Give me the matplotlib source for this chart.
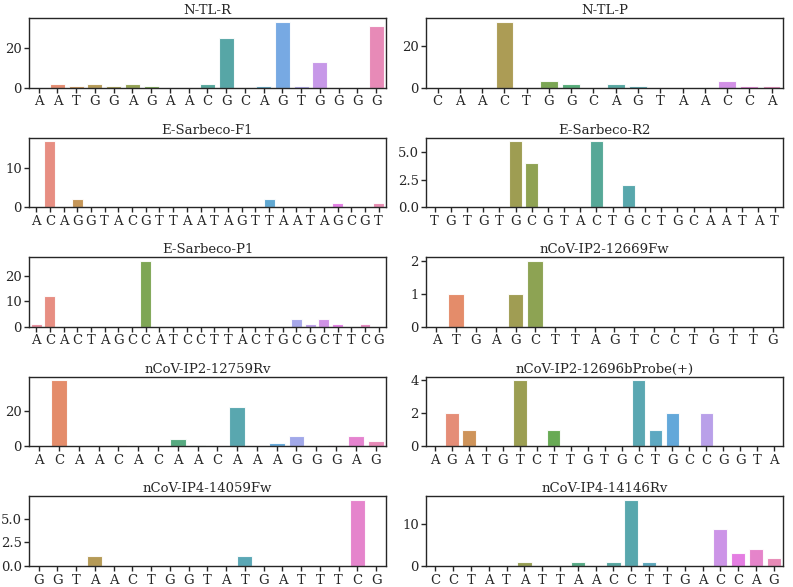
import matplotlib
matplotlib.use("Agg")
import matplotlib.pyplot as plt
from matplotlib.ticker import MaxNLocator
import seaborn as sns

# primer names, sequences and mismatch counts per position
titles = [
    "N-TL-R", "N-TL-P",
    "E-Sarbeco-F1", "E-Sarbeco-R2",
    "E-Sarbeco-P1", "nCoV-IP2-12669Fw",
    "nCoV-IP2-12759Rv", "nCoV-IP2-12696bProbe(+)",
    "nCoV-IP4-14059Fw", "nCoV-IP4-14146Rv",
]

seq_ntl_r = "AATGGAGAACGCAGTGGGG"
seq_ntl_p = "CAACTGGCAGTAACCA"
seq_e_f1 = "ACAGGTACGTTAATAGTTAATAGCGT"
seq_e_r2 = "TGTGTGCGTACTGCTGCAATAT"
seq_e_p1 = "ACACTAGCCATCCTTACTGCGCTTCG"
seq_ip2_fw = "ATGAGCTTAGTCCTGTTG"
seq_ip2_rv = "ACAACACAACAAAGGGAG"
seq_ip2_probe = "AGATGTCTTGTGCTGCCGGTA"
seq_ip4_fw = "GGTAACTGGTATGATTTCG"
seq_ip4_rv = "CCTATATTAACCTTGACCAG"

cnt_ntl_r = [0, 2, 1, 2, 1, 2, 1, 0, 0, 2, 25, 0, 1, 33, 1, 13, 0, 0, 31]
cnt_ntl_p = [0, 0, 0, 32, 0, 3, 2, 0, 2, 1, 0, 0, 0, 3, 1, 1]
cnt_e_f1 = [0, 17, 0, 2, 0, 0, 0, 0, 0, 0, 0, 0, 0, 0, 0, 0, 0, 2, 0, 0, 0, 0, 1, 0, 0, 1]
cnt_e_r2 = [0, 0, 0, 0, 0, 6, 4, 0, 0, 0, 6, 0, 2, 0, 0, 0, 0, 0, 0, 0, 0, 0]
cnt_e_p1 = [1, 12, 0, 0, 0, 0, 0, 0, 26, 0, 0, 0, 0, 0, 0, 0, 0, 0, 0, 3, 1, 3, 1, 0, 1, 0]
cnt_ip2_fw = [0, 1, 0, 0, 1, 2, 0, 0, 0, 0, 0, 0, 0, 0, 0, 0, 0, 0]
cnt_ip2_rv = [0, 37, 0, 0, 1, 0, 0, 4, 1, 0, 22, 0, 2, 6, 0, 1, 6, 3]
cnt_ip2_probe = [0, 2, 1, 0, 0, 4, 0, 1, 0, 0, 0, 0, 4, 1, 2, 0, 2, 0, 0, 0, 0]
cnt_ip4_fw = [0, 0, 0, 1, 0, 0, 0, 0, 0, 0, 0, 1, 0, 0, 0, 0, 0, 7, 0]
cnt_ip4_rv = [0, 0, 0, 0, 0, 1, 0, 0, 1, 0, 1, 16, 1, 0, 0, 0, 9, 3, 4, 2]

sequences = [seq_ntl_r, seq_ntl_p, seq_e_f1, seq_e_r2, seq_e_p1,
             seq_ip2_fw, seq_ip2_rv, seq_ip2_probe, seq_ip4_fw, seq_ip4_rv]
counts = [cnt_ntl_r, cnt_ntl_p, cnt_e_f1, cnt_e_r2, cnt_e_p1,
          cnt_ip2_fw, cnt_ip2_rv, cnt_ip2_probe, cnt_ip4_fw, cnt_ip4_rv]

sns.set_theme(style="ticks", context="paper")
plt.rcParams['font.family'] = ['DejaVu Serif']
plt.rcParams['xtick.labelsize'] = 9.5
plt.rcParams['ytick.labelsize'] = 9.5
plt.rcParams['axes.titlesize'] = 9.5
plt.rcParams['axes.titlepad'] = 3
plt.rcParams['xtick.major.size'] = 3.5
plt.rcParams['ytick.major.size'] = 3.5
plt.rcParams['xtick.major.pad'] = 2
plt.rcParams['ytick.major.pad'] = 2

fig, axes = plt.subplots(5, 2, figsize=(7.93, 5.87), dpi=100)

for ax, title, seq, vals in zip(axes.flat, titles, sequences, counts):
    n = len(seq)
    pos = list(range(n))
    sns.barplot(x=pos, y=vals, hue=pos, palette=sns.color_palette("husl", n),
                legend=False, alpha=0.9, ax=ax)
    ax.set_xticks(pos)
    ax.set_xticklabels(list(seq))
    ax.yaxis.set_major_locator(MaxNLocator(nbins=3, steps=[1, 2, 2.5, 5, 10]))
    ax.set_title(title)
    ax.set_xlabel('')
    ax.set_ylabel('')

fig.subplots_adjust(left=0.037, right=0.987, top=0.969, bottom=0.036,
                    wspace=0.115, hspace=0.72)
fig.savefig("out.png", dpi=100)
